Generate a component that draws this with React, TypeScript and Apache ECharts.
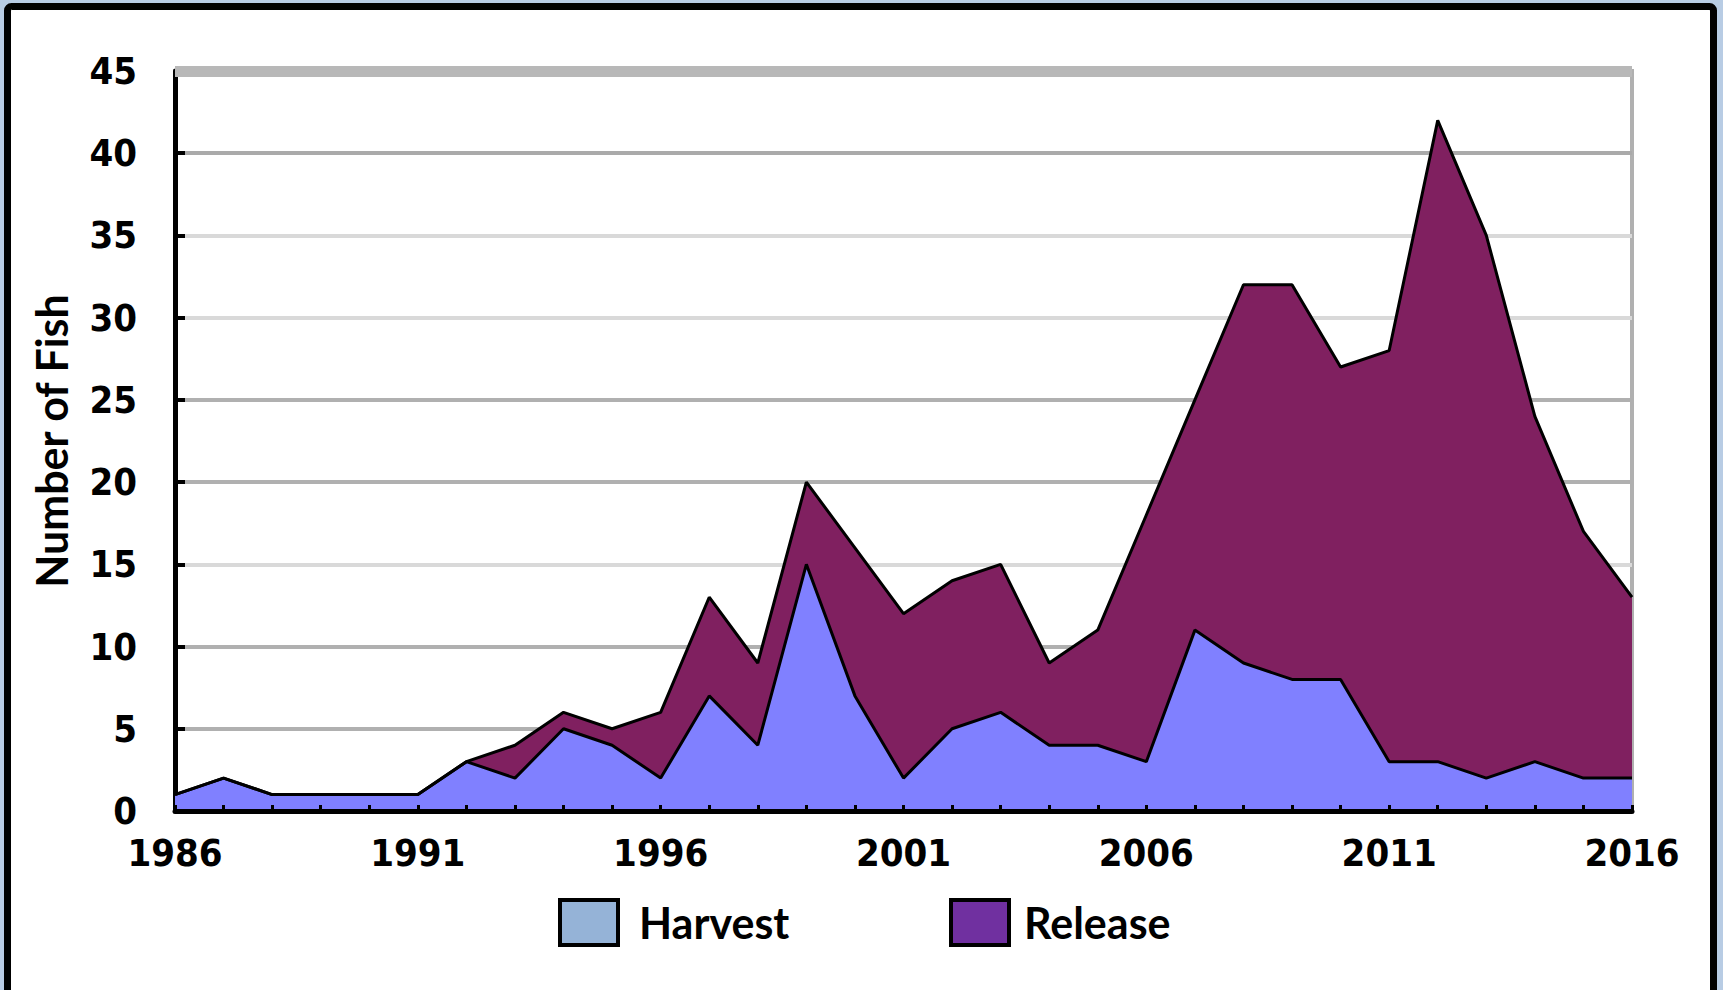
import React, { useEffect, useRef } from "react";
import * as echarts from "echarts";

const years = [
  "1986", "1987", "1988", "1989", "1990", "1991", "1992", "1993", "1994", "1995",
  "1996", "1997", "1998", "1999", "2000", "2001", "2002", "2003", "2004", "2005",
  "2006", "2007", "2008", "2009", "2010", "2011", "2012", "2013", "2014", "2015", "2016",
];
const harvest = [1, 2, 1, 1, 1, 1, 3, 2, 5, 4, 2, 7, 4, 15, 7, 2, 5, 6, 4, 4, 3, 11, 9, 8, 8, 3, 3, 2, 3, 2, 2];
const release = [0, 0, 0, 0, 0, 0, 0, 2, 1, 1, 4, 6, 5, 5, 9, 10, 9, 9, 5, 7, 15, 14, 23, 24, 19, 25, 39, 33, 21, 15, 11];
const seriesNames = ["Harvest", "Release"];
const areaColors = ["#8080ff", "#802060"];
const legendColors = ["#95b3d7", "#7030a0"];

const digitFont = "'Liberation Sans Narrow', 'DejaVu Sans Condensed', sans-serif";
const textFont = "Lato, 'Noto Sans', sans-serif";

export default function App() {
  const ref = useRef<HTMLDivElement>(null);
  useEffect(() => {
    if (!ref.current) return;
    const chart = echarts.init(ref.current, null, { renderer: "svg" });
    const legendText = {
      fontFamily: textFont,
      fontWeight: "bold",
      fontSize: 43,
      color: "#000",
    };
    chart.setOption({
      animation: false,
      backgroundColor: "#b8cce4",
      graphic: [
        {
          type: "rect",
          z: -10,
          shape: { x: 7.5, y: 6.5, width: 1706, height: 1200, r: 4 },
          style: { fill: "#ffffff", stroke: "#000000", lineWidth: 7 },
        },
      ],
      grid: {
        left: 175,
        right: 91,
        top: 71,
        bottom: 179,
        show: true,
        borderColor: "#b0b0b0",
        borderWidth: 4,
        backgroundColor: "transparent",
      },
      legend: [
        {
          data: [
            {
              name: seriesNames[0],
              itemStyle: { color: legendColors[0], borderColor: "#000", borderWidth: 4 },
            },
          ],
          left: 558,
          top: 898,
          padding: 0,
          icon: "rect",
          itemWidth: 58,
          itemHeight: 45,
          selectedMode: false,
          textStyle: { ...legendText, padding: [0, 0, 0, 16] },
        },
        {
          data: [
            {
              name: seriesNames[1],
              itemStyle: { color: legendColors[1], borderColor: "#000", borderWidth: 4 },
            },
          ],
          left: 949,
          top: 898,
          padding: 0,
          icon: "rect",
          itemWidth: 58,
          itemHeight: 45,
          selectedMode: false,
          textStyle: { ...legendText, padding: [0, 0, 0, 10] },
        },
      ],
      xAxis: {
        type: "category",
        data: years,
        boundaryGap: false,
        z: 5,
        axisLine: { show: true, lineStyle: { color: "#000", width: 5 } },
        axisTick: {
          show: true,
          inside: true,
          interval: 0,
          length: 6,
          lineStyle: { color: "#000", width: 3 },
        },
        axisLabel: {
          interval: 4,
          margin: 23,
          fontFamily: digitFont,
          fontWeight: "bold",
          fontSize: 38,
          color: "#000",
        },
        splitLine: { show: false },
      },
      yAxis: {
        type: "value",
        min: 0,
        max: 45,
        interval: 5,
        name: "Number of Fish",
        nameLocation: "middle",
        nameGap: 102,
        nameRotate: 90,
        nameTextStyle: {
          fontFamily: textFont,
          fontWeight: "bold",
          fontSize: 43,
          color: "#000",
        },
        axisLine: { show: true, lineStyle: { color: "#000", width: 5 } },
        axisTick: {
          show: true,
          inside: true,
          length: 10,
          lineStyle: { color: "#000", width: 4 },
        },
        axisLabel: {
          margin: 38,
          fontFamily: digitFont,
          fontWeight: "bold",
          fontSize: 38,
          color: "#000",
        },
        splitLine: {
          show: true,
          lineStyle: {
            width: 4,
            color: [
              "#b0b0b0", "#b0b0b0", "#b0b0b0", "#d9d9d9", "#b0b0b0",
              "#b0b0b0", "#d9d9d9", "#d9d9d9", "#aaaaaa", "#b8b8b8",
            ],
          },
        },
      },
      series: [
        {
          name: seriesNames[0],
          type: "line",
          stack: "total",
          data: harvest,
          showSymbol: false,
          symbol: "none",
          lineStyle: { color: "#000", width: 3 },
          itemStyle: { color: legendColors[0] },
          areaStyle: { color: areaColors[0], opacity: 1 },
          markLine: {
            silent: true,
            symbol: "none",
            label: { show: false },
            lineStyle: { color: "#b8b8b8", width: 11, type: "solid" },
            data: [{ yAxis: 45 }],
          },
        },
        {
          name: seriesNames[1],
          type: "line",
          stack: "total",
          data: release,
          showSymbol: false,
          symbol: "none",
          lineStyle: { color: "#000", width: 3 },
          itemStyle: { color: legendColors[1] },
          areaStyle: { color: areaColors[1], opacity: 1 },
        },
      ],
    });
    return () => chart.dispose();
  }, []);
  return (
    <div
      ref={ref}
      style={{ position: "fixed", left: 0, top: 0, width: 1723, height: 990 }}
    />
  );
}
